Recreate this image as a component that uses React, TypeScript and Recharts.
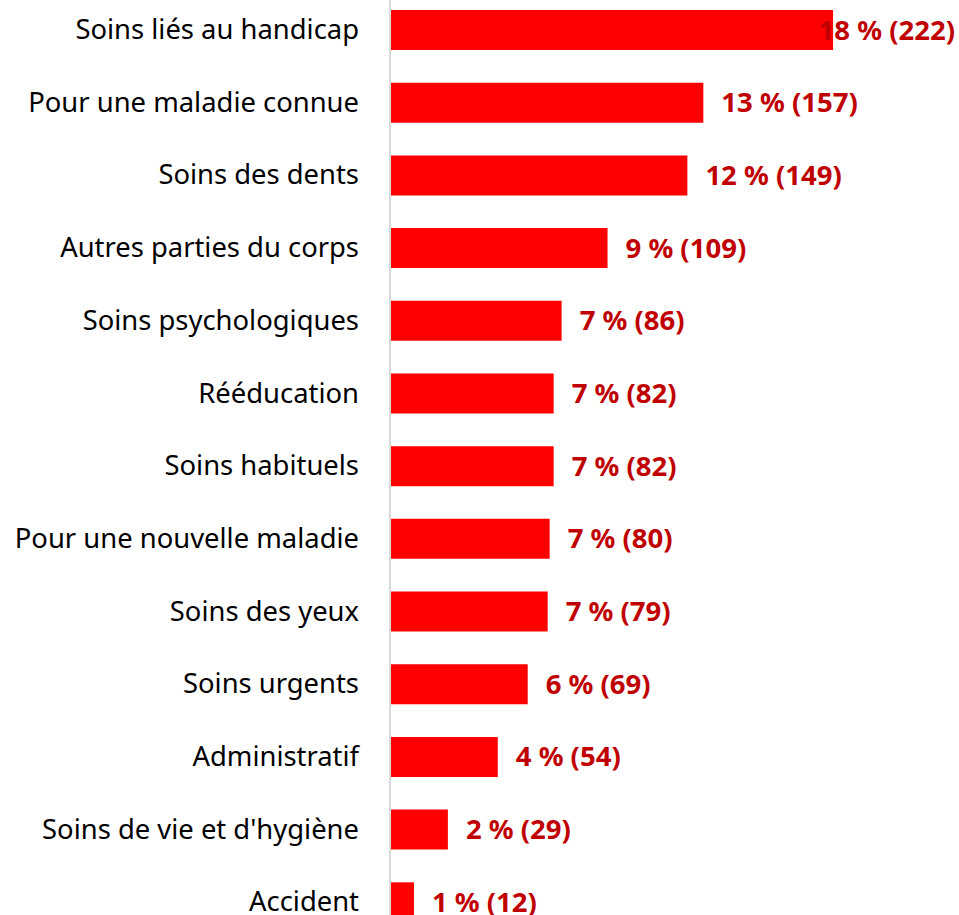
import { BarChart, Bar, XAxis, YAxis, LabelList } from "recharts"

const categories = [
  "Soins liés au handicap",
  "Pour une maladie connue",
  "Soins des dents",
  "Autres parties du corps",
  "Soins psychologiques",
  "Rééducation",
  "Soins habituels",
  "Pour une nouvelle maladie",
  "Soins des yeux",
  "Soins urgents",
  "Administratif",
  "Soins de vie et d'hygiène",
  "Accident",
]
const counts = [222, 157, 149, 109, 86, 82, 82, 80, 79, 69, 54, 29, 12]
const percents = [18, 13, 12, 9, 7, 7, 7, 7, 7, 6, 4, 2, 1]

const data = categories.map((name, i) => ({
  name,
  value: counts[i],
  label: `${percents[i]} % (${counts[i]})`,
}))

const FONT = "'Noto Sans', 'Open Sans', sans-serif"
const MAX_RIGHT = 955

// Excel pulls the top label back inside the plot when it would overflow
function ValueLabel(props: any) {
  const { x, y, width, height, value } = props
  const est = String(value).length * 15.5
  let tx = x + width + 18
  let anchor: "start" | "end" = "start"
  if (tx + est > MAX_RIGHT) {
    tx = MAX_RIGHT
    anchor = "end"
  }
  return (
    <text
      x={tx}
      y={y + height / 2 - 1}
      textAnchor={anchor}
      dominantBaseline="central"
      fill="#C00000"
      fontWeight="bold"
      fontSize={27.5}
      fontFamily={FONT}
    >
      {value}
    </text>
  )
}

export default function App() {
  return (
    <div
      style={{
        position: "fixed",
        top: 0,
        left: 0,
        width: 959,
        height: 915,
        overflow: "hidden",
        background: "#fff",
      }}
    >
      <div style={{ position: "absolute", top: -6, left: 0 }}>
        <BarChart
          width={959}
          height={945}
          data={data}
          layout="vertical"
          margin={{ top: 0, right: 90, bottom: 0, left: 0 }}
          barSize={40}
        >
          <XAxis type="number" domain={[0, 240]} hide />
          <YAxis
            type="category"
            dataKey="name"
            width={390}
            axisLine={{ stroke: "#d9d9d9", strokeWidth: 2 }}
            tickLine={false}
            tickSize={0}
            tickMargin={31}
            tick={{ fill: "#000", fontSize: 27.4, fontFamily: FONT, dy: -1 }}
            interval={0}
          />
          <Bar dataKey="value" fill="#FF0000" isAnimationActive={false}>
            <LabelList dataKey="label" content={<ValueLabel />} />
          </Bar>
        </BarChart>
      </div>
    </div>
  )
}
